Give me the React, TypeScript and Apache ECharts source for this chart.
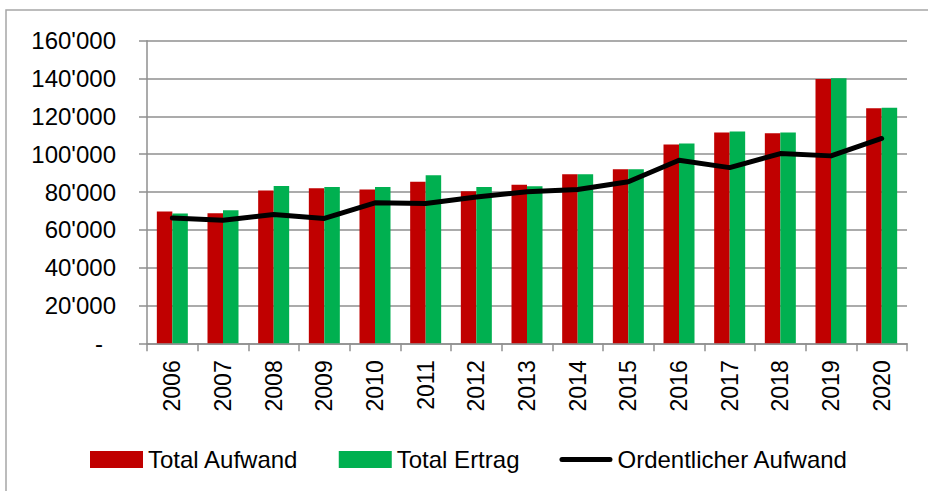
import React, { useEffect, useRef } from "react";
import * as echarts from "echarts";

const years = ["2006", "2007", "2008", "2009", "2010", "2011", "2012", "2013", "2014", "2015", "2016", "2017", "2018", "2019", "2020"];
const totalAufwand = [69700, 68800, 80800, 82000, 81300, 85400, 80400, 83800, 89400, 92000, 105100, 111400, 111100, 139700, 124300];
const totalErtrag = [68650, 70400, 83200, 82700, 82700, 88900, 82700, 83100, 89400, 92000, 105600, 112000, 111400, 140100, 124600];
const ordentlicherAufwand = [66200, 65100, 68100, 66000, 74300, 73900, 77400, 80100, 81300, 85400, 96800, 92900, 100300, 99100, 108300];

const FONT = "'Liberation Sans', Arial, sans-serif";
const GRAY = "#8f8f8f";
const LINE_ICON = "path://M2.5,0 L50.5,0 A2.5,2.5 0 0 1 50.5,5 L2.5,5 A2.5,2.5 0 0 1 2.5,0 Z";

function fmt(v: number): string {
  if (v === 0) return "{d|-}";
  return String(Math.round(v)).replace(/\B(?=(\d{3})+(?!\d))/g, "'");
}

export default function App() {
  const ref = useRef<HTMLDivElement>(null);
  useEffect(() => {
    if (!ref.current) return;
    const chart = echarts.init(ref.current, null, { renderer: "svg" });
    chart.setOption({
      animation: false,
      backgroundColor: "#ffffff",
      graphic: [
        {
          type: "rect",
          shape: { x: 6, y: 10, width: 960, height: 520 },
          style: { fill: "none", stroke: "#a6a6a6", lineWidth: 1.5 },
          silent: true,
        },
      ],
      grid: { left: 147, right: 21, top: 40.7, bottom: 147.7, containLabel: false },
      legend: {
        left: 90,
        top: 447.5,
        padding: 0,
        itemWidth: 53,
        itemHeight: 17,
        itemGap: 40,
        textStyle: { fontSize: 24, fontFamily: FONT, color: "#000" },
        data: [
          { name: "Total Aufwand", icon: "rect" },
          { name: "Total Ertrag", icon: "rect" },
          { name: "Ordentlicher Aufwand", icon: LINE_ICON },
        ],
      },
      xAxis: {
        type: "category",
        data: years,
        boundaryGap: true,
        axisLine: { show: true, lineStyle: { color: GRAY, width: 1.5 } },
        axisTick: { show: true, length: 8, lineStyle: { color: GRAY, width: 1.5 } },
        axisLabel: { rotate: 90, margin: 17, fontSize: 23, fontFamily: FONT, color: "#000" },
        splitLine: { show: false },
      },
      yAxis: {
        type: "value",
        min: 0,
        max: 160000,
        interval: 20000,
        axisLine: { show: true, lineStyle: { color: GRAY, width: 1.5 } },
        axisTick: { show: true, length: 8, lineStyle: { color: GRAY, width: 1.5 } },
        axisLabel: {
          margin: 31,
          fontSize: 24,
          fontFamily: FONT,
          color: "#000",
          formatter: fmt,
          rich: { d: { fontSize: 24, fontFamily: FONT, color: "#000", padding: [0, 13, 0, 0] } },
        },
        splitLine: { show: true, lineStyle: { color: GRAY, width: 1.5 } },
      },
      series: [
        {
          name: "Total Aufwand",
          type: "bar",
          data: totalAufwand,
          barWidth: 15.5,
          barGap: "0%",
          itemStyle: { color: "#C00000" },
        },
        {
          name: "Total Ertrag",
          type: "bar",
          data: totalErtrag,
          barWidth: 15.5,
          barGap: "0%",
          itemStyle: { color: "#00B050" },
        },
        {
          name: "Ordentlicher Aufwand",
          type: "line",
          data: ordentlicherAufwand,
          symbol: "none",
          lineStyle: { color: "#000", width: 5, cap: "round", join: "round" },
          itemStyle: { color: "#000" },
        },
      ],
    });
    return () => chart.dispose();
  }, []);
  return <div ref={ref} style={{ position: "fixed", left: 0, top: 0, width: 928, height: 491 }} />;
}
